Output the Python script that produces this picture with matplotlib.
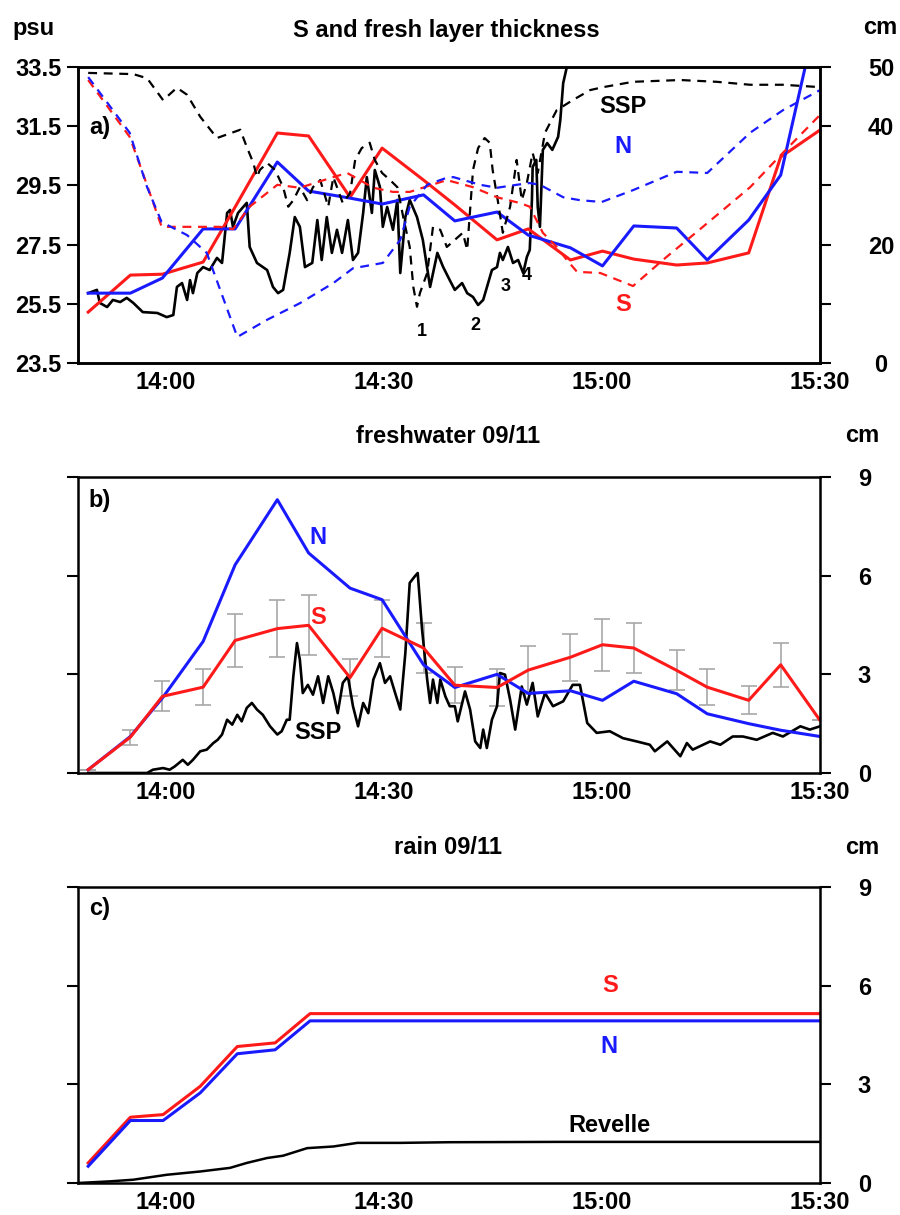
import numpy as np
import matplotlib
matplotlib.use("Agg")
import matplotlib.pyplot as plt

plt.rcParams['font.family'] = ['Liberation Sans', 'DejaVu Sans']
plt.rcParams['font.weight'] = 'bold'

# time in minutes after 13:00
t_sn = [49.4, 55.2, 59.6, 65.2, 69.6, 75.4, 79.7, 85.4, 89.8, 95.5, 99.8,
        105.6, 109.9, 115.7, 120.1, 124.4, 130.3, 134.5, 140.2, 144.6, 150.0]

# panel a: salinity (psu)
sal_S = [25.22, 26.47, 26.5, 26.91, 28.77, 31.27, 31.17, 29.1, 30.76, 29.68, 28.84,
         27.66, 28.03, 26.98, 27.28, 27.01, 26.81, 26.88, 27.22, 30.46, 31.37]
sal_N = [25.86, 25.86, 26.37, 28.03, 28.03, 30.29, 29.31, 29.07, 28.87, 29.18, 28.3,
         28.6, 27.82, 27.39, 26.78, 28.13, 28.06, 26.98, 28.33, 29.85, 35.7]

t_ssp_sal = [49.4, 50.6, 51.0, 52.0, 52.8, 53.8, 54.7, 55.6, 56.9, 58.9, 60.2, 61.1, 61.6,
             62.3, 63.0, 63.4, 63.8, 64.4, 65.2, 66.1, 67.1, 67.8, 68.5, 68.9, 69.3, 70.0,
             71.2, 71.6, 72.6, 74.0, 74.8, 75.5, 76.2, 77.1, 77.8, 78.5, 79.2, 80.2, 80.9,
             81.5, 82.2, 82.9, 83.6, 84.3, 85.1, 85.8, 86.5, 87.2, 87.7, 88.4, 88.8, 89.5,
             89.9, 90.5, 91.3, 91.9, 92.3, 93.0, 93.6, 94.6, 95.4, 96.4, 97.4, 98.2, 99.1,
             99.8, 100.8, 101.5, 102.3, 103.0, 103.7, 104.9, 105.6, 106.0, 106.4, 107.1,
             107.8, 108.5, 109.2, 109.7, 110.1, 110.4, 110.5, 111.0, 111.2, 111.5, 111.9,
             112.5, 113.2, 114.0, 114.3, 114.7, 115.2, 115.6]
ssp_sal = [25.86, 25.97, 25.53, 25.39, 25.63, 25.56, 25.70, 25.53, 25.22, 25.19, 25.05,
           25.12, 26.07, 26.20, 25.63, 26.30, 25.86, 26.54, 26.74, 26.64, 27.05, 26.88,
           28.57, 28.67, 28.10, 28.57, 28.91, 27.42, 26.88, 26.64, 26.07, 25.86, 25.97,
           27.22, 28.43, 28.10, 26.74, 26.88, 28.33, 26.98, 28.43, 27.22, 28.00, 27.22,
           28.33, 26.98, 27.22, 28.57, 29.78, 28.57, 30.02, 29.45, 28.10, 28.77, 28.00,
           29.01, 26.54, 28.43, 29.01, 28.43, 27.66, 26.07, 27.22, 26.74, 26.30, 25.97,
           26.20, 25.86, 25.73, 25.46, 25.63, 26.64, 26.74, 27.22, 26.98, 27.42, 26.88,
           26.98, 26.54, 27.08, 27.32, 29.01, 30.12, 30.36, 28.77, 28.10, 30.70, 30.93,
           30.70, 31.14, 31.71, 32.96, 33.5, 34.4]

# panel a: fresh layer thickness (cm)
t_thk_S = [49.4, 55.1, 56.9, 59.5, 63.0, 67.5, 69.3, 71.6, 75.4, 78.5, 83.1, 85.0, 88.6,
           91.3, 93.6, 96.4, 98.7, 102.3, 105.6, 108.8, 110.1, 111.9, 113.8, 115.2, 116.6,
           119.8, 124.3, 128.4, 133.9, 140.4, 144.9, 150.0]
thk_S = [47.8, 38.2, 32.1, 23.0, 23.0, 23.0, 22.6, 26.4, 30.1, 29.6, 31.4, 32.1, 29.6,
         28.9, 28.9, 30.0, 30.9, 29.7, 28.0, 27.0, 26.4, 22.0, 19.6, 17.4, 15.4,
         15.2, 13.0, 17.4, 23.0, 29.7, 35.5, 41.9]
t_thk_N = [49.4, 55.1, 57.5, 59.5, 63.0, 65.7, 69.9, 74.0, 78.5, 83.1, 85.8, 89.9, 92.3,
           93.6, 96.0, 98.7, 99.6, 103.3, 105.6, 108.3, 110.1, 111.5, 114.7, 117.0,
           120.0, 124.3, 130.3, 134.5, 140.4, 144.9, 150.0]
thk_N = [48.3, 38.9, 29.7, 23.8, 21.6, 18.6, 4.4, 7.3, 10.1, 13.5, 16.0, 16.9, 20.8,
         26.4, 30.1, 31.3, 31.4, 30.1, 29.6, 30.1, 30.4, 30.1, 28.0, 27.5,
         27.2, 29.2, 32.3, 32.1, 38.9, 42.7, 46.1]
t_thk_ssp = [49.4, 55.6, 57.5, 59.7, 61.6, 63.0, 64.8, 67.1, 70.3, 71.2, 72.1, 72.6, 73.0,
             74.0, 75.1, 76.2, 76.9, 77.6, 78.5, 79.5, 80.3, 81.3, 82.4, 83.1, 84.4, 85.4,
             86.1, 87.0, 88.1, 88.8, 89.8, 90.9, 91.9, 92.7, 93.6, 94.1, 94.6, 95.0, 96.0,
             96.8, 97.8, 98.7, 100.9, 101.5, 102.3, 103.0, 103.9, 104.6, 105.0, 105.7,
             106.4, 107.4, 108.3, 109.0, 109.7, 110.5, 111.2, 112.2, 113.8, 116.0, 118.4,
             120.2, 124.3, 130.8, 135.8, 140.4, 144.9, 150.0]
thk_ssp = [49.0, 48.8, 48.1, 44.4, 46.5, 45.3, 41.6, 38.0, 39.4, 36.5, 33.8, 31.4, 32.6,
           33.8, 32.6, 29.7, 26.4, 27.5, 29.7, 27.5, 29.7, 30.9, 26.4, 31.4, 27.0, 28.7,
           34.3, 36.3, 37.2, 34.3, 32.1, 30.9, 29.7, 24.7, 19.6, 12.8, 9.5, 11.8, 15.2,
           23.0, 22.5, 19.6, 22.0, 19.1, 32.6, 36.3, 38.0, 37.2, 32.6, 27.5,
           22.0, 26.4, 34.3, 27.5, 30.4, 35.5, 32.1, 38.9, 42.7, 44.4, 46.1,
           46.6, 47.5, 47.8, 47.5, 47.0, 47.0, 46.6]

# panel b: freshwater (cm)
fw_S = [0.1, 1.09, 2.33, 2.61, 4.03, 4.39, 4.49, 2.9, 4.4, 3.8, 2.67,
        2.6, 3.13, 3.52, 3.9, 3.8, 3.12, 2.61, 2.21, 3.29, 1.6]
fw_S_err = [0, 0.23, 0.46, 0.54, 0.8, 0.87, 0.91, 0.57, 0.87, 0.76, 0.54,
            0.55, 0.73, 0.72, 0.79, 0.75, 0.61, 0.54, 0.43, 0.66, 0]
fw_N = [0.1, 1.11, 2.28, 4.0, 6.33, 8.31, 6.69, 5.62, 5.27, 3.29, 2.6,
        3.0, 2.42, 2.5, 2.21, 2.79, 2.41, 1.8, 1.5, 1.3, 1.11]
t_fw_ssp = [49.4, 57.5, 58.3, 59.7, 60.6, 61.3, 62.4, 63.1, 63.8, 64.8, 65.7, 66.6, 67.2,
            67.8, 68.5, 69.2, 69.9, 70.5, 71.2, 71.9, 72.6, 73.4, 74.4, 75.4, 76.0, 76.7,
            77.1, 77.6, 78.1, 78.5, 78.9, 79.6, 80.3, 81.0, 81.7, 82.4, 83.1, 83.7, 84.4,
            85.1, 85.8, 86.5, 87.2, 87.9, 88.6, 89.5, 90.2, 90.9, 91.6, 92.3, 93.0, 93.6,
            94.3, 94.7, 95.3, 96.0, 96.4, 96.8, 97.4, 97.8, 98.5, 99.1, 99.8, 100.2, 101.2,
            101.9, 102.6, 103.3, 103.7, 104.2, 104.9, 105.6, 106.0, 106.7, 107.4, 108.1,
            109.0, 109.7, 110.5, 111.2, 112.2, 113.3, 114.7, 116.0, 117.0, 118.0, 119.3,
            121.1, 122.9, 124.8, 126.6, 127.3, 129.0, 130.8, 131.7, 132.5, 134.9, 136.3,
            138.0, 139.4, 141.3, 143.5, 144.9, 147.3, 148.6, 150.0]
fw_ssp = [0.0, 0.0, 0.1, 0.15, 0.1, 0.2, 0.4, 0.25, 0.4, 0.66, 0.71, 0.91, 1.01,
          1.17, 1.62, 1.47, 1.77, 1.57, 1.98, 2.13, 1.93, 1.77, 1.42, 1.17, 1.27, 1.62,
          1.62, 2.94, 3.95, 3.44, 2.43, 2.68, 2.38, 2.94, 2.13, 2.94, 2.43, 1.82, 2.74,
          2.94, 2.03, 1.42, 2.13, 1.82, 2.84, 3.34, 2.74, 2.94, 2.43, 1.93, 3.65, 5.78,
          5.98, 6.08, 4.36, 2.84, 2.13, 2.84, 2.13, 2.84, 2.33, 2.03, 2.03, 1.57, 2.48,
          1.93, 0.96, 0.76, 1.32, 0.76, 1.62, 2.03, 3.04, 2.99, 2.23, 1.32,
          2.63, 2.08, 2.74, 1.72, 2.43, 2.03, 2.18, 2.68, 2.68, 1.52, 1.22,
          1.27, 1.06, 0.96, 0.86, 0.66, 0.96, 0.51, 0.91, 0.71, 0.96, 0.86,
          1.11, 1.11, 1.01, 1.22, 1.11, 1.42, 1.32, 1.42]

# panel c: cumulative rain (cm)
t_rain = [49.4, 55.2, 59.7, 64.8, 69.9, 75.1, 79.9, 150.0]
rain_S = [0.61, 2.0, 2.08, 2.94, 4.15, 4.26, 5.15, 5.15]
rain_N = [0.51, 1.9, 1.9, 2.74, 3.93, 4.05, 4.93, 4.93]
t_rev = [48.0, 52.4, 55.6, 60.2, 64.8, 68.9, 71.2, 74.0, 76.2, 79.5, 83.1, 86.4, 92.3,
         99.1, 113.8, 150.0]
rain_rev = [0.0, 0.05, 0.1, 0.25, 0.35, 0.46, 0.61, 0.76, 0.83, 1.06, 1.11, 1.22, 1.22,
            1.24, 1.25, 1.25]

time_ticks = [60, 90, 120, 150]
time_labels = ['14:00', '14:30', '15:00', '15:30']

RED = '#ff1a1a'
BLUE = '#1a1aff'
FS = 17
W, H = 900, 1215

fig = plt.figure(figsize=(9, 12.15), dpi=100)


def make_axes(top, bottom):
    ax = fig.add_axes([78 / W, 1 - bottom / H, 742 / W, (bottom - top) / H])
    ax.set_xlim(48, 150)
    for s in ax.spines.values():
        s.set_linewidth(1.8)
    ax.set_xticks(time_ticks)
    ax.set_xticklabels(time_labels, fontsize=FS, fontweight='bold')
    ax.tick_params(axis='x', which='major', length=0, pad=6)
    ax.set_xticks([60, 120], minor=True)
    ax.tick_params(axis='x', which='minor', length=8, width=1.5, top=True,
                   bottom=True, direction='out')
    return ax


# ---- panel a
ax1 = make_axes(67, 363)
ax1.set_ylim(23.5, 33.5)
ax1.set_yticks(np.arange(23.5, 33.6, 2))
ax1.set_yticklabels(['23.5', '25.5', '27.5', '29.5', '31.5', '33.5'],
                    fontsize=FS, fontweight='bold')
ax1.tick_params(axis='y', length=8, width=1.5, pad=4)
ax1.plot(t_ssp_sal, ssp_sal, color='black', lw=1.9)
ax1.plot(t_sn, sal_S, color=RED, lw=2.2)
ax1.plot(t_sn, sal_N, color=BLUE, lw=2.2)
ax1r = ax1.twinx()
ax1r.set_ylim(0, 50)
ax1r.set_yticks([0, 10, 20, 30, 40, 50])
ax1r.set_yticklabels(['0', '', '20', '', '40', '50'], fontsize=FS, fontweight='bold')
for lab in ax1r.get_yticklabels():
    lab.set_horizontalalignment('center')
ax1r.tick_params(axis='y', length=8, width=1.5, pad=36)
for s in ax1r.spines.values():
    s.set_linewidth(1.8)
dash = (0, (4, 3))
ax1r.plot(t_thk_ssp, thk_ssp, color='black', lw=1.6, ls=dash)
ax1r.plot(t_thk_S, thk_S, color=RED, lw=1.6, ls=dash)
ax1r.plot(t_thk_N, thk_N, color=BLUE, lw=1.6, ls=dash)

ax1.text(51.0, 31.44, 'a)', fontsize=FS, ha='center', va='center')
ax1.text(122.9, 32.15, 'SSP', fontsize=FS, ha='center', va='center')
ax1.text(122.9, 30.8, 'N', fontsize=FS, color=BLUE, ha='center', va='center')
ax1.text(122.9, 25.46, 'S', fontsize=FS, color=RED, ha='center', va='center')
for lbl, tx, ty in [('1', 95.3, 24.55), ('2', 102.6, 24.78), ('3', 106.8, 26.07),
                    ('4', 109.7, 26.47)]:
    ax1.text(tx, ty, lbl, fontsize=13, ha='center', va='center')

fig.text(446 / W, 1 - 30 / H, 'S and fresh layer thickness', fontsize=FS,
         ha='center', va='center')
fig.text(34 / W, 1 - 28 / H, 'psu', fontsize=FS, ha='center', va='center')
fig.text(880 / W, 1 - 28 / H, 'cm', fontsize=FS, ha='center', va='center')


def right_cm_axis(ax):
    ax.set_ylim(0, 9)
    ax.set_yticks([0, 3, 6, 9])
    ax.tick_params(axis='y', length=8, width=1.5, left=True, right=True,
                   labelleft=False, labelright=True, labelsize=FS, pad=24)
    for lab in ax.get_yticklabels():
        lab.set_horizontalalignment('center')
        lab.set_fontweight('bold')


# ---- panel b
ax2 = make_axes(477, 773)
right_cm_axis(ax2)
ax2.errorbar(t_sn, fw_S, yerr=fw_S_err, fmt='none', ecolor='#a8a8a8',
             elinewidth=1.2, capsize=6, capthick=1.2)
ax2.plot(t_fw_ssp, fw_ssp, color='black', lw=1.9)
ax2.plot(t_sn, fw_N, color=BLUE, lw=2.2)
ax2.plot(t_sn, fw_S, color=RED, lw=2.2)
ax2.text(51.0, 8.3, 'b)', fontsize=FS, ha='center', va='center')
ax2.text(81.0, 7.17, 'N', fontsize=FS, color=BLUE, ha='center', va='center')
ax2.text(81.0, 4.74, 'S', fontsize=FS, color=RED, ha='center', va='center')
ax2.text(81.0, 1.22, 'SSP', fontsize=FS, ha='center', va='center')
fig.text(448 / W, 1 - 437 / H, 'freshwater 09/11', fontsize=FS, ha='center', va='center')
fig.text(862 / W, 1 - 436 / H, 'cm', fontsize=FS, ha='center', va='center')

# ---- panel c
ax3 = make_axes(887, 1183)
right_cm_axis(ax3)
ax3.plot(t_rev, rain_rev, color='black', lw=1.8)
ax3.plot(t_rain, rain_S, color=RED, lw=2.2)
ax3.plot(t_rain, rain_N, color=BLUE, lw=2.2)
ax3.text(51.0, 8.36, 'c)', fontsize=FS, ha='center', va='center')
ax3.text(121.1, 5.99, 'S', fontsize=FS, color=RED, ha='center', va='center')
ax3.text(121.0, 4.16, 'N', fontsize=FS, color=BLUE, ha='center', va='center')
ax3.text(121.1, 1.76, 'Revelle', fontsize=FS, ha='center', va='center')
fig.text(448 / W, 1 - 848 / H, 'rain 09/11', fontsize=FS, ha='center', va='center')
fig.text(862 / W, 1 - 847 / H, 'cm', fontsize=FS, ha='center', va='center')

fig.savefig('out.png', dpi=100)
